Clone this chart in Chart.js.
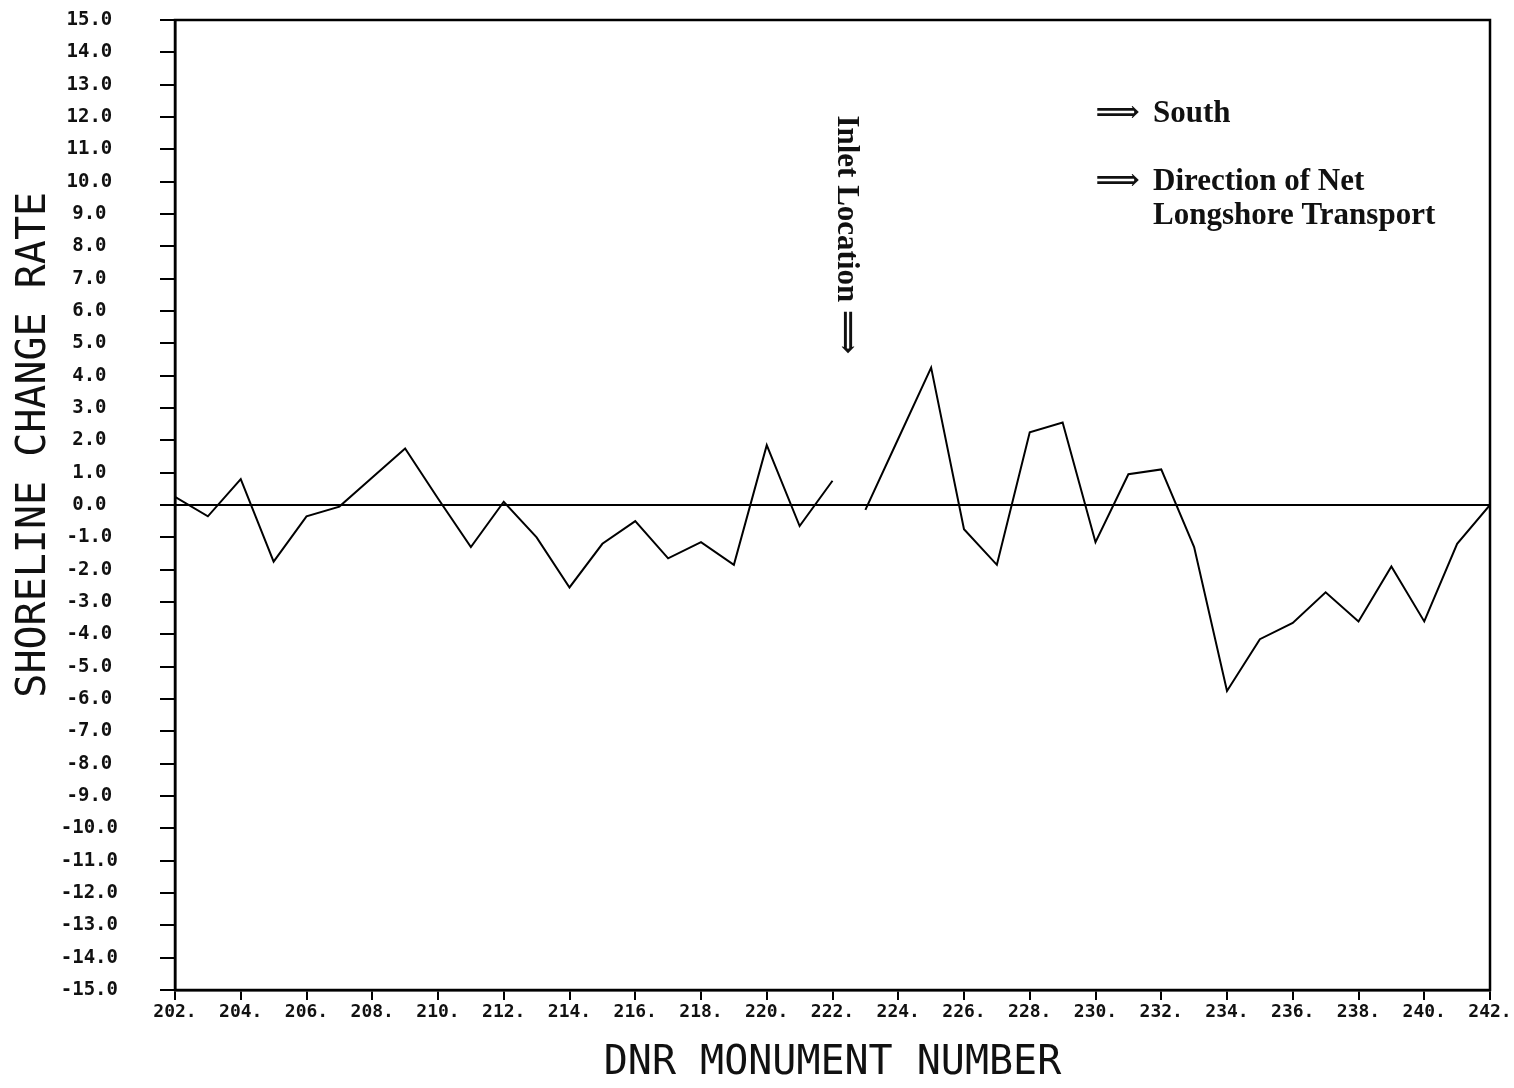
<!DOCTYPE html>
<html>
<head>
<meta charset="utf-8">
<script src="https://cdn.jsdelivr.net/npm/chart.js@4.4.1/dist/chart.umd.min.js"></script>
<style>
  html, body { margin: 0; padding: 0; background: #fff; overflow: hidden; }
  #wrap { width: 1514px; height: 1088px; position: relative; }
</style>
</head>
<body>
<div id="wrap"><canvas id="shoreChart"></canvas></div>
<script>
// monuments north of the inlet (202 - 222)
const monumentosNorte = [202, 203, 204, 205, 206, 207, 208, 209, 210, 211, 212,
  213, 214, 215, 216, 217, 218, 219, 220, 221, 222];
const taxasNorte = [0.25, -0.35, 0.8, -1.75, -0.35, -0.05, 0.85, 1.75, 0.2, -1.3, 0.1,
  -1.0, -2.55, -1.2, -0.5, -1.65, -1.15, -1.85, 1.85, -0.65, 0.75];

// monuments south of the inlet (223 - 242)
const monumentosSul = [223, 224, 225, 226, 227, 228, 229, 230, 231, 232,
  233, 234, 235, 236, 237, 238, 239, 240, 241, 242];
const taxasSul = [-0.15, 2.05, 4.25, -0.75, -1.85, 2.25, 2.55, -1.15, 0.95, 1.1,
  -1.3, -5.75, -4.15, -3.65, -2.7, -3.6, -1.9, -3.6, -1.2, 0.0];

// zero reference line
const linhaZeroX = [202, 242];
const linhaZeroY = [0, 0];

const xMin = 202, xMax = 242, xPasso = 2;
const yMin = -15, yMax = 15, yPasso = 1;

const tituloX = 'DNR MONUMENT NUMBER';
const tituloY = '     SHORELINE CHANGE RATE';
const textoInlet = 'Inlet Location \u27F9';
const textoLegenda = ['South', 'Direction of Net', 'Longshore Transport'];

function pares(xs, ys) {
  return xs.map((v, i) => ({ x: v, y: ys[i] }));
}

// frame + text notes
const anotacoes = {
  id: 'anotacoes',
  afterDraw(chart) {
    const { ctx, chartArea, scales: { x, y } } = chart;
    ctx.save();
    ctx.strokeStyle = '#000';
    ctx.lineWidth = 2.5;
    ctx.strokeRect(chartArea.left, chartArea.top, chartArea.width, chartArea.height);

    ctx.fillStyle = '#111';
    ctx.font = 'bold 31px "Liberation Serif", "DejaVu Serif", serif';
    ctx.textBaseline = 'middle';
    ctx.textAlign = 'left';

    // inlet label, rotated
    ctx.save();
    ctx.translate(x.getPixelForValue(222.4), y.getPixelForValue(12.05));
    ctx.rotate(Math.PI / 2);
    ctx.fillText(textoInlet, 0, 0);
    ctx.restore();

    // arrows legend
    ctx.fillText('\u27F9', x.getPixelForValue(230.0), y.getPixelForValue(12.1));
    ctx.fillText(textoLegenda[0], x.getPixelForValue(231.75), y.getPixelForValue(12.1));
    ctx.fillText('\u27F9', x.getPixelForValue(230.0), y.getPixelForValue(10.0));
    ctx.fillText(textoLegenda[1], x.getPixelForValue(231.75), y.getPixelForValue(10.0));
    ctx.fillText(textoLegenda[2], x.getPixelForValue(231.75), y.getPixelForValue(8.95));
    ctx.restore();
  }
};

const ctx = document.getElementById('shoreChart').getContext('2d');

new Chart(ctx, {
  type: 'line',
  data: {
    datasets: [
      {
        data: pares(linhaZeroX, linhaZeroY),
        borderColor: '#000',
        borderWidth: 2,
        pointRadius: 0
      },
      {
        data: pares(monumentosNorte, taxasNorte),
        borderColor: '#000',
        borderWidth: 2,
        pointRadius: 0,
        tension: 0
      },
      {
        data: pares(monumentosSul, taxasSul),
        borderColor: '#000',
        borderWidth: 2,
        pointRadius: 0,
        tension: 0
      }
    ]
  },
  options: {
    responsive: true,
    maintainAspectRatio: false,
    animation: false,
    layout: { padding: { top: 20, right: 24, left: 0, bottom: 0 } },
    plugins: {
      legend: { display: false },
      tooltip: { enabled: false }
    },
    scales: {
      x: {
        type: 'linear',
        min: xMin,
        max: xMax,
        afterFit: (scale) => { scale.height = 98; },
        border: { display: true, color: '#000', width: 2.5 },
        grid: { drawOnChartArea: false, drawTicks: true, tickLength: 10, color: '#000', lineWidth: 2 },
        ticks: {
          stepSize: xPasso,
          color: '#111',
          padding: 2,
          maxRotation: 0,
          autoSkip: false,
          font: { family: '"DejaVu Sans Mono"', weight: 'bold', size: 18 },
          callback: (v) => v + '.'
        },
        title: {
          display: true,
          text: tituloX,
          color: '#111',
          padding: { top: 4, bottom: 0 },
          font: { family: '"DejaVu Sans Mono"', size: 40, weight: 'normal' }
        }
      },
      y: {
        min: yMin,
        max: yMax,
        afterFit: (scale) => {
          scale.width = 175;
          scale.paddingTop = 0;
          scale.paddingBottom = 0;
        },
        border: { display: true, color: '#000', width: 2.5 },
        grid: { drawOnChartArea: false, drawTicks: true, tickLength: 15, color: '#000', lineWidth: 2 },
        ticks: {
          stepSize: yPasso,
          color: '#111',
          padding: 42,
          crossAlign: 'center',
          autoSkip: false,
          font: { family: '"DejaVu Sans Mono"', weight: 'bold', size: 19 },
          callback: (v) => v.toFixed(1)
        },
        title: {
          display: true,
          text: tituloY,
          color: '#111',
          padding: { top: 11, bottom: 0 },
          font: { family: '"DejaVu Sans Mono"', size: 40, weight: 'normal' }
        }
      }
    }
  },
  plugins: [anotacoes]
});
</script>
</body>
</html>
